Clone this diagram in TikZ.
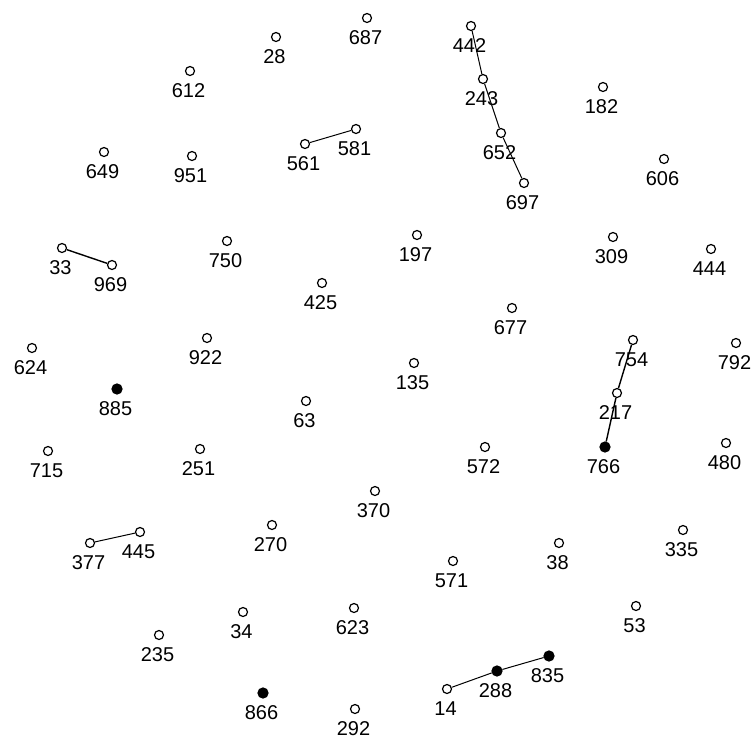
\documentclass[tikz,border=0pt]{standalone}
\usepackage{fontspec}
\setmainfont{Liberation Sans}
\usepackage{tikz}

\begin{document}
\begin{tikzpicture}[
      x=1pt, y=-1pt,
      every node/.style={font=\fontsize{20}{20}\selectfont},
      every label/.style={inner sep=0pt, xshift=-1.5pt},
      label distance=7pt,
      pt/.style={circle, draw, line width=1.2pt, minimum size=9pt, inner sep=0pt},
      hit/.style={pt, fill=black, minimum size=10pt},
      link/.style={line width=1pt}
    ]
      \useasboundingbox (0,0) rectangle (753,740);
      \node[pt, label=below:687] (v687) at (367,18) {};
      \node[pt, label=below:28] (v28) at (276,37) {};
      \node[pt, label=below:612] (v612) at (190,71) {};
      \node[pt, label=below:581] (v581) at (356,129) {};
      \node[pt, label=below:561] (v561) at (305,144) {};
      \node[pt, label=below:649] (v649) at (104,152) {};
      \node[pt, label=below:951] (v951) at (192,156) {};
      \node[pt, label=below:442] (v442) at (471,26) {};
      \node[pt, label=below:243] (v243) at (483,79) {};
      \node[pt, label=below:182] (v182) at (603,87) {};
      \node[pt, label=below:652] (v652) at (501,133) {};
      \node[pt, label=below:606] (v606) at (664,159) {};
      \node[pt, label=below:697] (v697) at (524,183) {};
      \node[pt, label=below:33] (v33) at (62,248) {};
      \node[pt, label=below:969] (v969) at (112,265) {};
      \node[pt, label=below:750] (v750) at (227,241) {};
      \node[pt, label=below:425] (v425) at (322,283) {};
      \node[pt, label=below:624] (v624) at (32,348) {};
      \node[pt, label=below:922] (v922) at (207,338) {};
      \node[hit, label=below:885] (v885) at (117,389) {};
      \node[pt, label=below:63] (v63) at (306,401) {};
      \node[pt, label=below:715] (v715) at (48,451) {};
      \node[pt, label=below:251] (v251) at (200,449) {};
      \node[pt, label=below:197] (v197) at (417,235) {};
      \node[pt, label=below:309] (v309) at (613,237) {};
      \node[pt, label=below:444] (v444) at (711,249) {};
      \node[pt, label=below:677] (v677) at (512,308) {};
      \node[pt, label=below:754] (v754) at (633,340) {};
      \node[pt, label=below:792] (v792) at (736,343) {};
      \node[pt, label=below:135] (v135) at (414,363) {};
      \node[pt, label=below:217] (v217) at (617,393) {};
      \node[pt, label=below:572] (v572) at (485,447) {};
      \node[hit, label=below:766] (v766) at (605,447) {};
      \node[pt, label=below:480] (v480) at (726,443) {};
      \node[pt, label=below:370] (v370) at (375,491) {};
      \node[pt, label=below:335] (v335) at (683,530) {};
      \node[pt, label=below:445] (v445) at (140,532) {};
      \node[pt, label=below:377] (v377) at (90,543) {};
      \node[pt, label=below:270] (v270) at (272,525) {};
      \node[pt, label=below:34] (v34) at (243,612) {};
      \node[pt, label=below:623] (v623) at (354,608) {};
      \node[pt, label=below:235] (v235) at (159,635) {};
      \node[hit, label=below:866] (v866) at (263,693) {};
      \node[pt, label=below:292] (v292) at (355,709) {};
      \node[pt, label=below:38] (v38) at (559,543) {};
      \node[pt, label=below:571] (v571) at (453,561) {};
      \node[pt, label=below:53] (v53) at (636,606) {};
      \node[hit, label=below:835] (v835) at (549,656) {};
      \node[hit, label=below:288] (v288) at (497,671) {};
      \node[pt, label=below:14] (v14) at (447,689) {};
      \draw[link] (v442) -- (v243) -- (v652) -- (v697);
      \draw[link] (v561) -- (v581);
      \draw[link, line width=1.4pt] (v33) -- (v969);
      \draw[link, line width=1.4pt] (v754) -- (v217) -- (v766);
      \draw[link] (v377) -- (v445);
      \draw[link] (v14) -- (v288) -- (v835);
    \end{tikzpicture}
\end{document}
